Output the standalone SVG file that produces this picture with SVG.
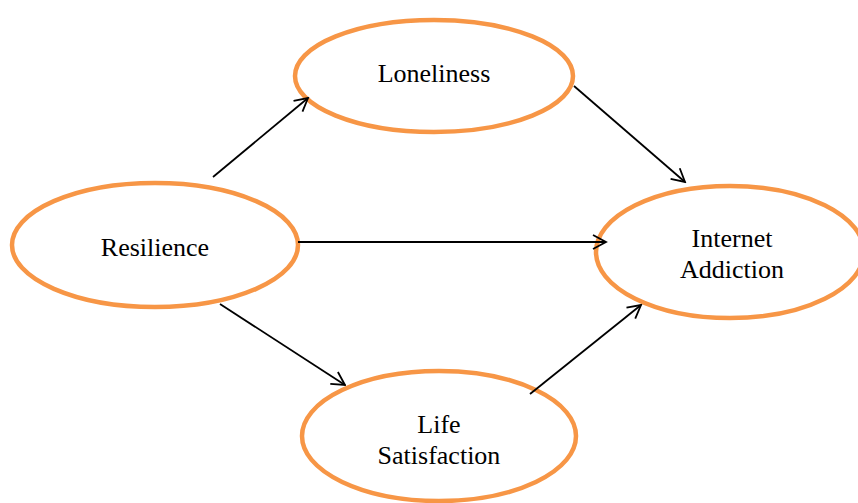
<svg xmlns="http://www.w3.org/2000/svg" width="858" height="503" viewBox="0 0 858 503">
<style>
.node{fill:#fff;stroke:#F79646;stroke-width:4.5}
.lbl{font-family:'Liberation Serif','Times New Roman',serif;font-size:26px;fill:#000;text-anchor:middle}
.edge{stroke:#000;stroke-width:1.8;fill:none;marker-end:url(#arr)}
</style>
<defs>
<marker id="arr" viewBox="0 0 16 16" refX="14.5" refY="8" markerWidth="16" markerHeight="16" markerUnits="userSpaceOnUse" orient="auto">
<path d="M1.5,1 L14.5,8 L1.5,15" fill="none" stroke="#000" stroke-width="1.8"/>
</marker>
</defs>
<rect width="858" height="503" fill="#fff"/>
<g id="loneliness">
<ellipse class="node" cx="434" cy="76" rx="139" ry="56"/>
<text class="lbl" x="434" y="82">Loneliness</text>
</g>
<g id="resilience">
<ellipse class="node" cx="155" cy="245" rx="143" ry="62"/>
<text class="lbl" x="155" y="256">Resilience</text>
</g>
<g id="internet-addiction">
<ellipse class="node" cx="730" cy="252" rx="134" ry="66"/>
<text class="lbl" x="732" y="247">Internet</text>
<text class="lbl" x="732" y="278">Addiction</text>
</g>
<g id="life-satisfaction">
<ellipse class="node" cx="439" cy="436" rx="137" ry="65"/>
<text class="lbl" x="439" y="433">Life</text>
<text class="lbl" x="439" y="464">Satisfaction</text>
</g>
<g id="connectors">
<line class="edge" x1="213" y1="177" x2="308" y2="98"/>
<line class="edge" x1="298" y1="242" x2="606" y2="242"/>
<line class="edge" x1="220" y1="304" x2="345" y2="385"/>
<line class="edge" x1="574" y1="86" x2="685" y2="182"/>
<line class="edge" x1="530" y1="394" x2="641" y2="305"/>
</g>
</svg>
